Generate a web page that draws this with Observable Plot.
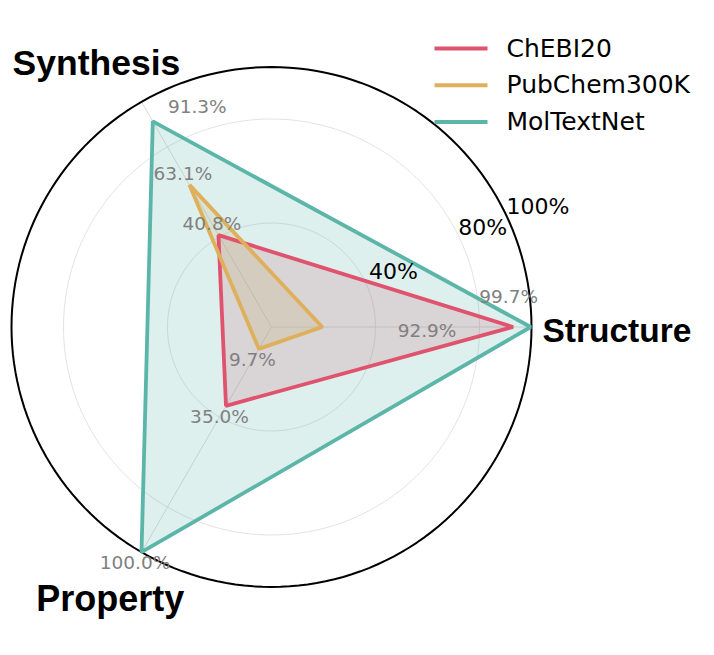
<!DOCTYPE html>
<html>
<head>
<meta charset="utf-8">
<script src="https://cdn.jsdelivr.net/npm/d3@7"></script>
<script src="https://cdn.jsdelivr.net/npm/@observablehq/plot@0.6"></script>
<style>
  html, body { margin: 0; padding: 0; background: #fff; }
  #chart { width: 714px; height: 655px; }
</style>
</head>
<body>
<div id="chart"></div>
<script>
// ---- data ----
const axesNames = ["Structure", "Synthesis", "Property"];
const seriesNames = ["ChEBI20", "PubChem300K", "MolTextNet"];
const chebi20 = [92.9, 40.8, 35.0];
const pubchem300k = [19.5, 63.1, 9.7];
const moltextnet = [99.7, 91.3, 100.0];
const showLabel = { ChEBI20: [true, true, true], PubChem300K: [false, true, true], MolTextNet: [true, true, true] };
const gridTicks = [40, 80];
const tickLabels = [40, 80, 100];

// ---- styling / layout ----
const W = 714, H = 655;
const cx = 271, cy = 326.5, pxPerUnit = 2.6;
const colors = { ChEBI20: "#E0536E", PubChem300K: "#DFB05C", MolTextNet: "#5BB5A9" };
const angleOf = i => (i * 120) * Math.PI / 180;
const px2x = px => (px - cx) / pxPerUnit;
const px2y = py => (cy - py) / pxPerUnit;
const polar = (v, i) => ({ x: v * Math.cos(angleOf(i)), y: v * Math.sin(angleOf(i)) });

const values = { ChEBI20: chebi20, PubChem300K: pubchem300k, MolTextNet: moltextnet };
const rows = seriesNames.flatMap(s => values[s].map((v, i) => ({ series: s, axis: axesNames[i], i, v, ...polar(v, i) })));

// value label nudges in px (where labels were moved off the spoke)
const labelNudge = { "MolTextNet|Synthesis": [51, -3], "MolTextNet|Structure": [-35, -30], "ChEBI20|Structure": [-99, 4.5] };
const valueLabels = rows.filter(d => showLabel[d.series][d.i]).map(d => {
  const p = polar(d.v + 5, d.i);
  const n = labelNudge[d.series + "|" + d.axis] || [0, 0];
  return { ...d, lx: p.x + n[0] / pxPerUnit, ly: p.y - n[1] / pxPerUnit, text: d.v.toFixed(1) + "%" };
});

// grid circles
const circle = r => d3.range(0, 361, 2).map(a => ({ r, x: r * Math.cos(a * Math.PI / 180), y: r * Math.sin(a * Math.PI / 180) }));
const gridPts = gridTicks.flatMap(circle);
const outerPts = circle(100);
const spokes = axesNames.map((name, i) => ({ name, ...polar(100, i) }));

// axis labels
const axisLabelPos = [
  { name: "Structure", r: 104.2, anchor: "start", nudge: [0, 4.5], size: 33.5 },
  { name: "Synthesis", r: 117, anchor: "middle", nudge: [-23, 0], size: 35.5 },
  { name: "Property", r: 121, anchor: "middle", nudge: [-4, 0], size: 36 }
].map((d, i) => { const p = polar(d.r, i); return { ...d, x: p.x + d.nudge[0] / pxPerUnit, y: p.y - d.nudge[1] / pxPerUnit }; });

// radial tick labels
const tickLabelData = tickLabels.map(v => {
  const a = 24.5 * Math.PI / 180, r = v + 11.5;
  return { v, x: r * Math.cos(a) + (v === 80 ? -2 : 0) + (v === 100 ? 1 : 0), y: r * Math.sin(a), text: v + "%" };
});

// legend
const legend = seriesNames.map((s, k) => ({ s, y: px2y(48 + k * 36.8) }));

const plot = Plot.plot({
  width: W, height: H,
  marginTop: 0, marginRight: 0, marginBottom: 0, marginLeft: 0,
  x: { domain: [px2x(0), px2x(W)], axis: null },
  y: { domain: [px2y(H), px2y(0)], axis: null },
  style: { background: "#fff", overflow: "visible" },
  marks: [
    Plot.line(gridPts, { x: "x", y: "y", z: "r", stroke: "#e3e3e3", strokeWidth: 1 }),
    Plot.link(spokes, { x1: 0, y1: 0, x2: "x", y2: "y", stroke: "#dcdcdc", strokeWidth: 1 }),
    Plot.line(rows, { x: "x", y: "y", z: "series", curve: "linear-closed", fill: d => colors[d.series], fillOpacity: 0.2, stroke: "none" }),
    Plot.line(outerPts, { x: "x", y: "y", stroke: "#000", strokeWidth: 2 }),
    ...seriesNames.map(s => Plot.line(rows.filter(d => d.series === s), { x: "x", y: "y", curve: "linear-closed", stroke: colors[s], strokeWidth: 3.8, strokeLinejoin: "miter" })),
    Plot.text(valueLabels, { x: "lx", y: "ly", text: "text", fill: "#808080", fontSize: 18.5, fontFamily: "DejaVu Sans" }),
    Plot.text(tickLabelData, { x: "x", y: "y", text: "text", fill: "#000", fontSize: 22, fontFamily: "DejaVu Sans" }),
    ...axisLabelPos.map(d => Plot.text([d], { x: "x", y: "y", text: "name", textAnchor: d.anchor, fill: "#000", fontSize: d.size, fontWeight: "bold", fontFamily: "Liberation Sans, Arial, sans-serif" })),
    Plot.link(legend, { x1: px2x(434), x2: px2x(487), y1: "y", y2: "y", stroke: d => colors[d.s], strokeWidth: 4 }),
    Plot.text(legend, { x: px2x(506), y: "y", text: "s", textAnchor: "start", fill: "#000", fontSize: 25, fontFamily: "DejaVu Sans" })
  ]
});
document.getElementById("chart").appendChild(plot);
</script>
</body>
</html>
